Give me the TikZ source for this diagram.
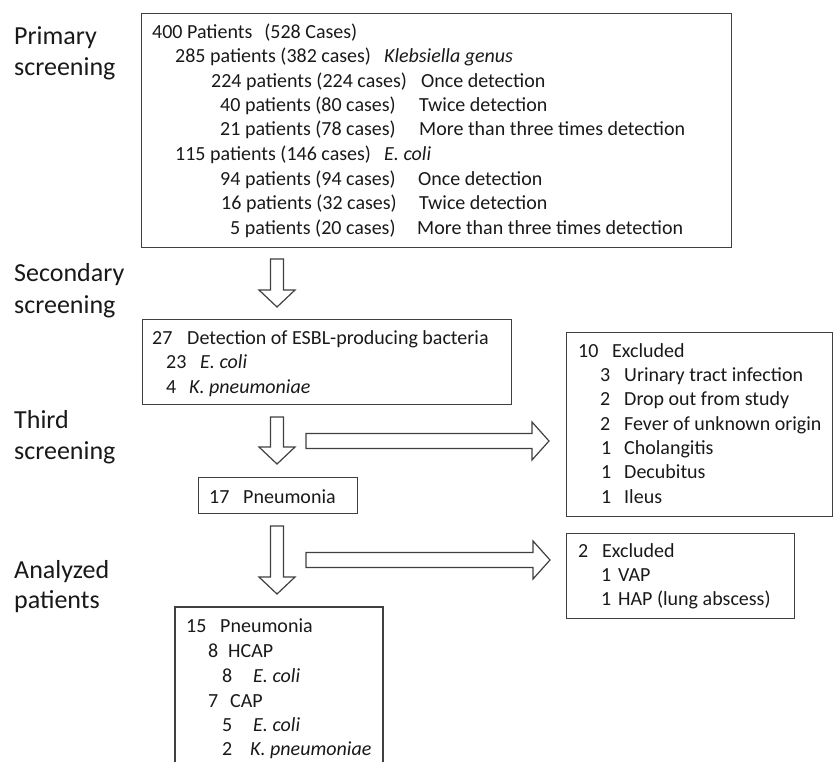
\documentclass[tikz,border=0pt]{standalone}
\usepackage{fontspec}
\setmainfont{Carlito}
\newcommand\vblock[3]{\draw[barrow] ({#1-6.5},#2) -- ({#1+6.5},#2) -- ({#1+6.5},{#3-17}) -- ({#1+18},{#3-17}) -- (#1,#3) -- ({#1-18},{#3-17}) -- ({#1-6.5},{#3-17}) -- cycle;}
\newcommand\hblock[3]{\draw[barrow] (#1,{#3-7.5}) -- (#1,{#3+7.5}) -- ({#2-17},{#3+7.5}) -- ({#2-17},{#3+19}) -- (#2,#3) -- ({#2-17},{#3-19}) -- ({#2-17},{#3-7.5}) -- cycle;}
\begin{document}
\begin{tikzpicture}[x=1pt,y=-1pt,
  txt/.style={anchor=base west,inner sep=0pt,text=black!90,font=\fontsize{20}{24}\selectfont},
  lab/.style={anchor=base west,inner sep=0pt,text=black!90,font=\fontsize{26}{31}\selectfont},
  box/.style={draw=black!75,line width=1.2pt,anchor=north west,inner sep=0pt},
  barrow/.style={draw=black!75,line width=1.2pt,fill=white,line join=miter}]
\useasboundingbox (0,0) rectangle (833,762);

% left labels
\node[lab] (l1a) at (14,45) {Primary};
\node[lab] (l1b) at (14,76) {screening};
\node[lab] (l2a) at (14,282) {Secondary};
\node[lab] (l2b) at (14,313) {screening};
\node[lab] (l3a) at (14,428) {Third};
\node[lab] (l3b) at (14,459) {screening};
\node[lab] (l4a) at (14,578) {Analyzed};
\node[lab] (l4b) at (14,608) {patients};

% boxes
\node[box,minimum width=590pt,minimum height=234pt] (prim) at (141,13) {};
\node[box,minimum width=369pt,minimum height=85pt] (sec) at (142,319) {};
\node[box,minimum width=159pt,minimum height=36pt] (pn17) at (198,477) {};
\node[box,minimum width=266pt,minimum height=184pt] (exc1) at (566,332) {};
\node[box,minimum width=228pt,minimum height=85pt] (exc2) at (566,533) {};
\coordinate (fbl) at (175,763);
\coordinate (ftl) at (175,607);
\coordinate (ftr) at (383,607);
\coordinate (fbr) at (383,763);
\draw[draw=black!75,line width=1.2pt] (fbl) -- (ftl) -- (ftr) -- (fbr);

% block arrows
\vblock{277}{259}{307}
\vblock{277}{417}{464}
\vblock{277}{526}{594}
\hblock{306}{549}{441}
\hblock{306}{550}{560}

% primary screening text
\node[txt] (p1) at (152,39) {400 Patients\hspace{0.6em}(528 Cases)};
\node[txt] (p2) at (175,63) {285 patients (382 cases)};
\node[txt] (p2b) at (384,63) {\itshape Klebsiella genus};
\node[txt] (p3) at (211,88) {224 patients (224 cases)};
\node[txt] (p3b) at (421,88) {Once detection};
\node[txt] (p4) at (220,112) {40 patients (80 cases)};
\node[txt] (p4b) at (419,112) {Twice detection};
\node[txt] (p5) at (220,136) {21 patients (78 cases)};
\node[txt] (p5b) at (419,136) {More than three times detection};
\node[txt] (p6) at (175,161) {115 patients (146 cases)};
\node[txt] (p6b) at (384,161) {\itshape E. coli};
\node[txt] (p7) at (220,186) {94 patients (94 cases)};
\node[txt] (p7b) at (418,186) {Once detection};
\node[txt] (p8) at (221,210) {16 patients (32 cases)};
\node[txt] (p8b) at (419,210) {Twice detection};
\node[txt] (p9) at (230,235) {5 patients (20 cases)};
\node[txt] (p9b) at (417,235) {More than three times detection};

% secondary
\node[txt] (s1) at (152,344) {27};
\node[txt] (s1b) at (187,344) {Detection of ESBL-producing bacteria};
\node[txt] (s2) at (166,368) {23};
\node[txt] (s2b) at (200,368) {\itshape E. coli};
\node[txt] (s3) at (166,393) {4};
\node[txt] (s3b) at (189,393) {\itshape K. pneumoniae};

% 17 pneumonia
\node[txt] (t1) at (209,503) {17};
\node[txt] (t1b) at (243,503) {Pneumonia};

% excluded 10
\node[txt] (e1) at (578,357) {10};
\node[txt] (e1b) at (612,357) {Excluded};
\node[txt] (e2) at (600,381) {3};
\node[txt] (e2b) at (624,381) {Urinary tract infection};
\node[txt] (e3) at (600,405.5) {2};
\node[txt] (e3b) at (624,405.5) {Drop out from study};
\node[txt] (e4) at (600,430) {2};
\node[txt] (e4b) at (624,430) {Fever of unknown origin};
\node[txt] (e5) at (601,454.5) {1};
\node[txt] (e5b) at (624,454.5) {Cholangitis};
\node[txt] (e6) at (601,478.5) {1};
\node[txt] (e6b) at (624,478.5) {Decubitus};
\node[txt] (e7) at (601,503) {1};
\node[txt] (e7b) at (624,503) {Ileus};

% excluded 2
\node[txt] (x1) at (578,557) {2};
\node[txt] (x1b) at (602,557) {Excluded};
\node[txt] (x2) at (601,581) {1};
\node[txt] (x2b) at (618,581) {VAP};
\node[txt] (x3) at (601,605) {1};
\node[txt] (x3b) at (618,605) {HAP (lung abscess)};

% analyzed
\node[txt] (f1) at (186,632) {15};
\node[txt] (f1b) at (220,632) {Pneumonia};
\node[txt] (f2) at (208,657) {8};
\node[txt] (f2b) at (228,657) {HCAP};
\node[txt] (f3) at (222,682) {8};
\node[txt] (f3b) at (253,682) {\itshape E. coli};
\node[txt] (f4) at (208,707) {7};
\node[txt] (f4b) at (230,707) {CAP};
\node[txt] (f5) at (222,731) {5};
\node[txt] (f5b) at (253,731) {\itshape E. coli};
\node[txt] (f6) at (222,755) {2};
\node[txt] (f6b) at (250,755) {\itshape K. pneumoniae};
\end{tikzpicture}
\end{document}
